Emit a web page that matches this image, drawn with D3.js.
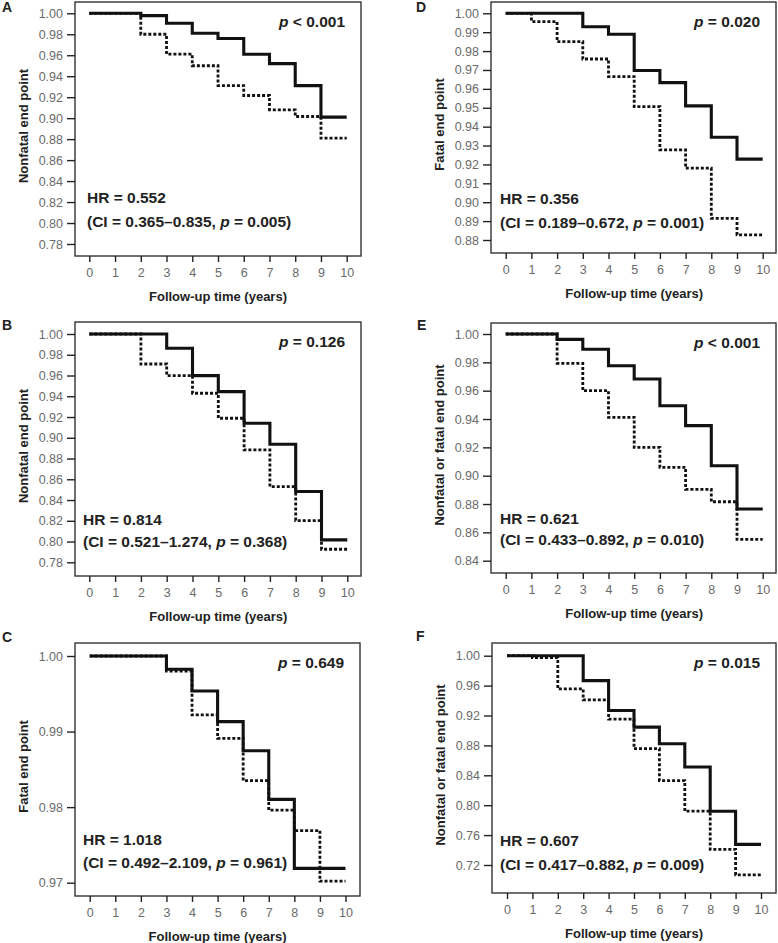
<!DOCTYPE html>
<html>
<head>
<meta charset="utf-8">
<script src="https://cdn.jsdelivr.net/npm/d3@7"></script>
<style>
  body { margin: 0; background: #fff; }
  svg { display: block; font-family: "Liberation Sans", Arial, sans-serif; }
  .tick text { fill: #6a6a6a; font-family: "Liberation Sans Narrow", "Arial Narrow", "Liberation Sans", sans-serif; font-size: 12.5px; }
  .tick line { stroke: #222; stroke-width: 1.4; }
  .axis-title { font-weight: bold; font-size: 13px; fill: #222; }
  .stat { font-weight: bold; font-size: 15.5px; fill: #222; }
  .letter { font-weight: bold; font-size: 14px; fill: #222; }
</style>
</head>
<body>
<svg id="chart" width="778" height="943"></svg>
<script>
// follow-up years (step curves change at each integer year)
const years = [0, 1, 2, 3, 4, 5, 6, 7, 8, 9, 10];
const panelIds = ["A", "B", "C", "D", "E", "F"];

// y-axis titles
const yTitles = {
  A: "Nonfatal end point",
  B: "Nonfatal end point",
  C: "Fatal end point",
  D: "Fatal end point",
  E: "Nonfatal or fatal end point",
  F: "Nonfatal or fatal end point"
};

// y tick labels per panel
const yTicksA = [1.00, 0.98, 0.96, 0.94, 0.92, 0.90, 0.88, 0.86, 0.84, 0.82, 0.80, 0.78];
const yTicksB = [1.00, 0.98, 0.96, 0.94, 0.92, 0.90, 0.88, 0.86, 0.84, 0.82, 0.80, 0.78];
const yTicksC = [1.00, 0.99, 0.98, 0.97];
const yTicksD = [1.00, 0.99, 0.98, 0.97, 0.96, 0.95, 0.94, 0.93, 0.92, 0.91, 0.90, 0.89, 0.88];
const yTicksE = [1.00, 0.98, 0.96, 0.94, 0.92, 0.90, 0.88, 0.86, 0.84];
const yTicksF = [1.00, 0.96, 0.92, 0.88, 0.84, 0.80, 0.76, 0.72];

// survival in each yearly interval [t, t+1), solid and dotted groups
const solidA  = [1, 1, 0.9978, 0.9905, 0.981, 0.976, 0.961, 0.952, 0.931, 0.901];
const dottedA = [1, 1, 0.980, 0.961, 0.950, 0.931, 0.9216, 0.908, 0.9016, 0.881];
const solidB  = [1, 1, 1, 0.9862, 0.9599, 0.9445, 0.914, 0.8937, 0.8482, 0.8016];
const dottedB = [1, 1, 0.9711, 0.9599, 0.9429, 0.9188, 0.8883, 0.853, 0.8202, 0.7926];
const solidC  = [1, 1, 1, 0.99824, 0.99537, 0.99131, 0.98747, 0.98103, 0.9719, 0.9719];
const dottedC = [1, 1, 1, 0.998, 0.9922, 0.9891, 0.9835, 0.9796, 0.9769, 0.9702];
const solidD  = [1, 1, 1, 0.9929, 0.9889, 0.9697, 0.9633, 0.951, 0.9344, 0.9228];
const dottedD = [1, 0.9956, 0.985, 0.9758, 0.9665, 0.9506, 0.9277, 0.918, 0.8915, 0.8827];
const solidE  = [1, 1, 0.9962, 0.9892, 0.9776, 0.9682, 0.9494, 0.9353, 0.907, 0.8765];
const dottedE = [1, 1, 0.9793, 0.96, 0.9412, 0.92, 0.9059, 0.8904, 0.8816, 0.855];
const solidF  = [1, 1, 1, 0.9667, 0.9267, 0.9044, 0.8822, 0.8511, 0.792, 0.7476];
const dottedF = [1, 0.9973, 0.9556, 0.9409, 0.9151, 0.8756, 0.8329, 0.792, 0.7409, 0.7067];

// log-rank p and hazard ratio annotations
const pTexts = { A: ["<", "0.001"], B: ["=", "0.126"], C: ["=", "0.649"], D: ["=", "0.020"], E: ["<", "0.001"], F: ["=", "0.015"] };
const hrValues = { A: "0.552", B: "0.814", C: "1.018", D: "0.356", E: "0.621", F: "0.607" };
const ciValues = { A: "0.365–0.835", B: "0.521–1.274", C: "0.492–2.109", D: "0.189–0.672", E: "0.433–0.892", F: "0.417–0.882" };
const ciPValues = { A: "0.005", B: "0.368", C: "0.961", D: "0.001", E: "0.010", F: "0.009" };

const ticksById = { A: yTicksA, B: yTicksB, C: yTicksC, D: yTicksD, E: yTicksE, F: yTicksF };
const solidById = { A: solidA, B: solidB, C: solidC, D: solidD, E: solidE, F: solidF };
const dottedById = { A: dottedA, B: dottedB, C: dottedC, D: dottedD, E: dottedE, F: dottedF };

// pixel layout of each panel: box, y range for first/last tick, x range for 0/10
const layout = {
  A: { box: [75, 2, 361, 256], yr: [13.3, 244], xr: [89.3, 346.7], hrX: 87, hrDy: -58, ciDy: -34, letter: [2, 12] },
  B: { box: [75, 322, 361, 576], yr: [334, 562.3], xr: [89.3, 347.3], hrX: 83, hrDy: -56, ciDy: -34, letter: [2, 330] },
  C: { box: [75, 643, 360, 896], yr: [656, 882.7], xr: [89.7, 345.5], hrX: 83, hrDy: -56, ciDy: -33, letter: [2, 642] },
  D: { box: [491, 2, 776, 253], yr: [13.3, 240], xr: [505.7, 762.7], hrX: 500, hrDy: -54, ciDy: -30, letter: [416, 12] },
  E: { box: [491, 323, 776, 573], yr: [334, 560.7], xr: [505.7, 762.7], hrX: 500, hrDy: -54, ciDy: -33, letter: [417, 330] },
  F: { box: [492, 643, 776, 893], yr: [655.7, 865], xr: [507, 761], hrX: 500, hrDy: -52, ciDy: -28, letter: [416, 641] }
};

const svg = d3.select("#chart");

panelIds.forEach(id => {
  const L = layout[id];
  const [bx0, by0, bx1, by1] = L.box;
  const ticks = ticksById[id];
  const g = svg.append("g").attr("class", "panel panel-" + id);

  const x = d3.scaleLinear().domain([0, 10]).range(L.xr);
  const y = d3.scaleLinear().domain([ticks[0], ticks[ticks.length - 1]]).range(L.yr);

  // frame
  g.append("rect")
    .attr("x", bx0).attr("y", by0)
    .attr("width", bx1 - bx0).attr("height", by1 - by0)
    .attr("fill", "none").attr("stroke", "#333").attr("stroke-width", 1.4);

  // y axis
  const yAxis = d3.axisLeft(y).tickValues(ticks).tickFormat(d3.format(".2f")).tickSize(8).tickPadding(4);
  g.append("g").attr("transform", `translate(${bx0},0)`).call(yAxis)
    .call(s => s.select(".domain").remove());

  // x axis
  const xAxis = d3.axisBottom(x).tickValues(years).tickFormat(d3.format("d")).tickSize(6).tickPadding(6);
  g.append("g").attr("transform", `translate(0,${by1})`).call(xAxis)
    .call(s => s.select(".domain").remove());

  // step curves
  const line = d3.line().x(d => x(d[0])).y(d => y(d[1])).curve(d3.curveStepAfter);
  const toPts = vals => years.map((t, i) => [t, vals[Math.min(i, vals.length - 1)]]);

  g.append("path").datum(toPts(dottedById[id]))
    .attr("d", line).attr("fill", "none").attr("stroke", "#111")
    .attr("stroke-width", 2.8).attr("stroke-dasharray", "3,2");
  g.append("path").datum(toPts(solidById[id]))
    .attr("d", line).attr("fill", "none").attr("stroke", "#111")
    .attr("stroke-width", 3.1);

  // titles
  g.append("text").attr("class", "axis-title")
    .attr("x", (L.xr[0] + L.xr[1]) / 2).attr("y", by1 + 45)
    .attr("text-anchor", "middle").text("Follow-up time (years)");
  const ytx = bx0 - 47;
  const yty = (by0 + by1) / 2 - 3;
  g.append("text").attr("class", "axis-title")
    .attr("transform", `translate(${ytx},${yty}) rotate(-90)`)
    .attr("text-anchor", "middle").text(yTitles[id]);

  // panel letter
  g.append("text").attr("class", "letter")
    .attr("x", L.letter[0]).attr("y", L.letter[1]).text(id);

  // p value
  const pt = g.append("text").attr("class", "stat")
    .attr("x", bx1 - 16).attr("y", by0 + 25).attr("text-anchor", "end");
  pt.append("tspan").attr("font-style", "italic").text("p");
  pt.append("tspan").text(` ${pTexts[id][0]} ${pTexts[id][1]}`);

  // hazard ratio
  g.append("text").attr("class", "stat")
    .attr("x", L.hrX).attr("y", by1 + L.hrDy + 5)
    .text(`HR = ${hrValues[id]}`);
  const ci = g.append("text").attr("class", "stat")
    .attr("x", L.hrX).attr("y", by1 + L.ciDy + 5);
  ci.append("tspan").text(`(CI = ${ciValues[id]}, `);
  ci.append("tspan").attr("font-style", "italic").text("p");
  ci.append("tspan").text(` = ${ciPValues[id]})`);
});
</script>
</body>
</html>
